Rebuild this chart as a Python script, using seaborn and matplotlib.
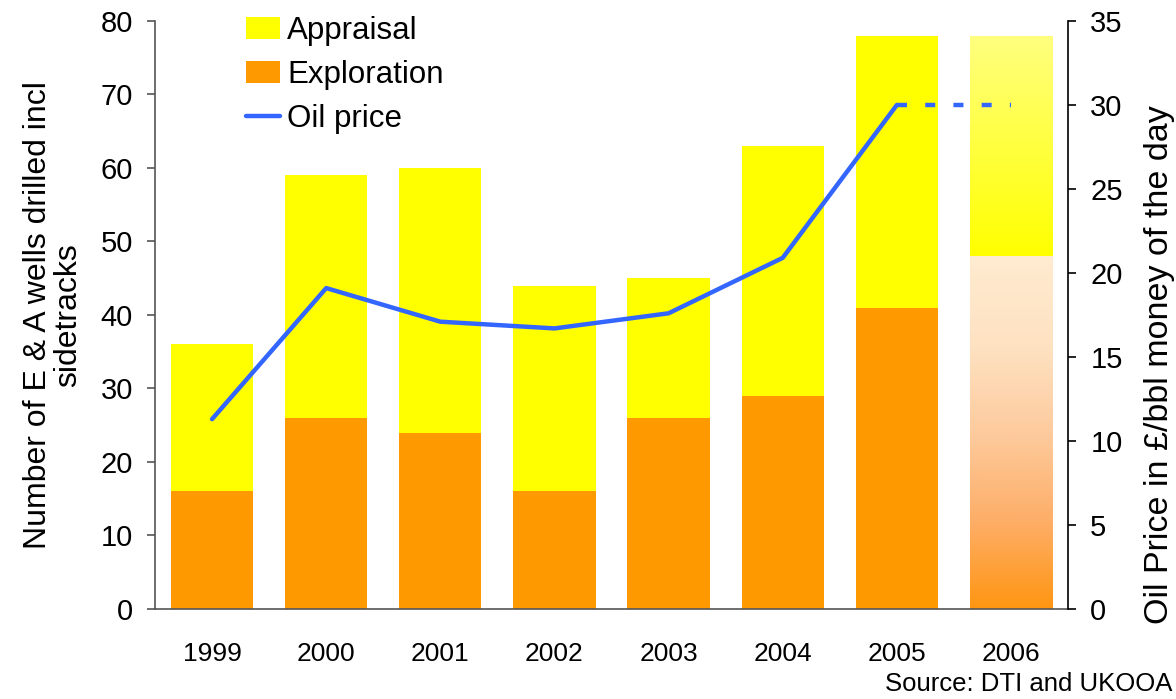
import numpy as np
import pandas as pd
import matplotlib
matplotlib.use("Agg")
import matplotlib.pyplot as plt
from matplotlib.colors import LinearSegmentedColormap
from matplotlib.patches import Patch
from matplotlib.lines import Line2D
import seaborn as sns

# data
years = ["1999", "2000", "2001", "2002", "2003", "2004", "2005", "2006"]
exploration = [16, 26, 24, 16, 26, 29, 41, 48]
appraisal = [20, 33, 36, 28, 19, 34, 37, 30]
oil_price = [11.3, 19.1, 17.1, 16.7, 17.6, 20.9, 30.0, 30.0]

yellow = "#FFFF00"
orange = "#FF9900"
blue = "#3366FF"

sns.set_style("white")
plt.rcParams["font.family"] = ["Liberation Sans", "DejaVu Sans"]
plt.rcParams["text.color"] = "black"
plt.rcParams["axes.labelcolor"] = "black"
plt.rcParams["xtick.color"] = "black"
plt.rcParams["ytick.color"] = "black"

df = pd.DataFrame({"year": years, "exploration": exploration, "appraisal": appraisal})
df["total"] = df["exploration"] + df["appraisal"]

fig = plt.figure(figsize=(11.76, 6.99), dpi=100)
ax = fig.add_axes([0.1318, 0.1288, 0.7764, 0.8412])

# stacked bars: total (yellow) behind, exploration (orange) in front
sns.barplot(data=df, x="year", y="total", color=yellow, saturation=1, width=0.72,
            linewidth=0, edgecolor="none", ax=ax)
sns.barplot(data=df, x="year", y="exploration", color=orange, saturation=1, width=0.72,
            linewidth=0, edgecolor="none", ax=ax)

n = len(years)
# 2006 = forecast, shown with gradient fills
top_bar = ax.patches[n - 1]
bot_bar = ax.patches[2 * n - 1]
x0 = bot_bar.get_x()
x1 = x0 + bot_bar.get_width()

cm_expl = LinearSegmentedColormap.from_list(
    "expl", ["#FF9612", "#FDAE68", "#FDCB9E", "#FEE2C2", "#FFEBD0"])
cm_appr = LinearSegmentedColormap.from_list("appr", ["#FFFF00", "#FFFF40", "#FFFF80"])
grad = np.linspace(0, 1, 256).reshape(-1, 1)

for patch, cmap, lo, hi in [
    (top_bar, cm_appr, df["exploration"].iloc[-1], df["total"].iloc[-1]),
    (bot_bar, cm_expl, 0, df["exploration"].iloc[-1]),
]:
    patch.set_facecolor("none")
    im = ax.imshow(grad, cmap=cmap, origin="lower", aspect="auto",
                   extent=[x0, x1, lo, hi], zorder=patch.get_zorder())
    im.set_clip_path(patch)

ax.set_xlim(-0.5, n - 0.5)
ax.set_ylim(0, 80)
ax.set_yticks(range(0, 81, 10))
ax.set_xticks(range(n))
ax.set_xticklabels(years)
ax.set_xticks(np.arange(-0.5, n, 1), minor=True)
ax.tick_params(axis="x", which="major", length=0, pad=24, labelsize=19)
ax.tick_params(axis="x", which="minor", length=7, width=1.2, color="#555555", direction="out")
ax.tick_params(axis="y", length=6, width=1.2, color="#555555", direction="out",
               pad=10, labelsize=21, left=True)
ax.set_xlabel("")
ax.set_ylabel("Number of E & A wells drilled incl\nsidetracks", fontsize=23, linespacing=1.0)
ax.yaxis.set_label_coords(-0.079, 0.5)

for s in ["top", "right"]:
    ax.spines[s].set_visible(False)
for s in ["left", "bottom"]:
    ax.spines[s].set_color("#555555")
    ax.spines[s].set_linewidth(1.2)

# oil price on the right axis
ax2 = ax.twinx()
xpos = np.arange(n)
sns.lineplot(x=xpos[:-1], y=oil_price[:-1], color=blue, lw=3.2, ax=ax2)
sns.lineplot(x=xpos[-2:], y=oil_price[-2:], color=blue, lw=3.2,
             linestyle=(0, (2.25, 4.1)), dash_capstyle="butt", ax=ax2)
ax2.set_ylim(0, 35)
ax2.set_yticks(range(0, 36, 5))
ax2.tick_params(axis="y", length=6, width=1.2, color="black", direction="out",
                pad=10, labelsize=21, right=True)
ax2.set_ylabel("Oil Price in £/bbl money of the day", fontsize=24.5)
ax2.yaxis.set_label_coords(1.0835, 0.415)
ax2.spines["top"].set_visible(False)
ax2.spines["left"].set_visible(False)
ax2.spines["bottom"].set_visible(False)
ax2.spines["right"].set_color("black")
ax2.spines["right"].set_linewidth(1.2)

handles = [
    Patch(facecolor=yellow, edgecolor="none"),
    Patch(facecolor=orange, edgecolor="none"),
    Line2D([0], [0], color=blue, lw=3.2),
]
ax2.legend(handles, ["Appraisal", "Exploration", "Oil price"], loc="upper left",
           bbox_to_anchor=(0.1, 1.008), frameon=False, fontsize=22.5,
           handlelength=1.08, handleheight=0.7, handletextpad=0.22,
           labelspacing=0.45, borderpad=0, borderaxespad=0)

fig.text(0.997, 0.004, "Source: DTI and UKOOA", ha="right", va="bottom", fontsize=18.5)

fig.savefig("out.png", dpi=100)
